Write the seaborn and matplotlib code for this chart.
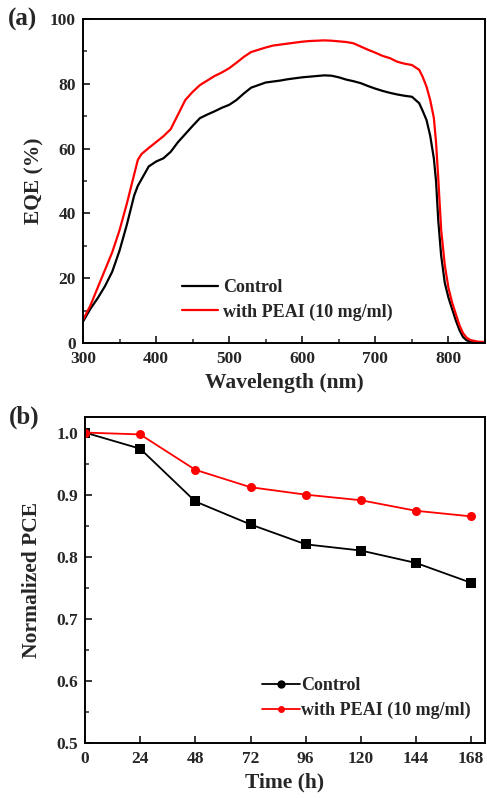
import numpy as np
import pandas as pd
import matplotlib
matplotlib.use("Agg")
import matplotlib.pyplot as plt
from matplotlib.ticker import MultipleLocator, FormatStrFormatter
import seaborn as sns

# (a) External quantum efficiency spectra
wavelength = [300, 310, 320, 330, 340, 350, 360, 370, 375, 380, 390, 400, 410, 420, 430,
              440, 450, 460, 470, 480, 490, 500, 510, 520, 530, 540, 550, 560, 570,
              580, 590, 600, 610, 620, 630, 640, 650, 660, 670, 680, 690, 700, 710,
              720, 730, 740, 750, 760, 765, 770, 775, 780, 783, 786, 790, 795, 800,
              805, 810, 815, 820, 825, 830, 840, 850]
eqe_control = [6.6, 10.5, 13.8, 17.5, 22.0, 28.5, 36.5, 45.5, 48.5, 50.5, 54.5, 56.0, 57.0,
               59.0, 62.0, 64.5, 67.0, 69.4, 70.5, 71.5, 72.6, 73.5, 75.0, 77.0, 78.8,
               79.6, 80.4, 80.7, 81.0, 81.4, 81.7, 82.0, 82.2, 82.4, 82.6, 82.5, 82.0,
               81.3, 80.8, 80.2, 79.3, 78.5, 77.8, 77.2, 76.7, 76.3, 76.0, 74.0, 71.5,
               68.8, 64.0, 57.0, 50.0, 38.0, 27.0, 18.5, 14.0, 10.5, 7.0, 4.0, 1.8,
               0.8, 0.4, 0.2, 0.1]
eqe_peai = [7.1, 11.5, 17.0, 22.5, 28.0, 34.8, 43.0, 52.0, 56.5, 58.3, 60.2, 62.0, 63.8,
            66.0, 70.5, 75.0, 77.5, 79.6, 81.0, 82.4, 83.5, 84.8, 86.5, 88.3, 89.8,
            90.5, 91.2, 91.8, 92.1, 92.4, 92.7, 93.0, 93.2, 93.3, 93.4, 93.3, 93.1,
            92.9, 92.5, 91.5, 90.5, 89.6, 88.6, 87.9, 86.8, 86.2, 85.8, 84.3, 82.0,
            79.1, 75.0, 69.5, 62.0, 51.0, 35.0, 24.0, 17.0, 12.5, 9.0, 5.5, 3.0,
            1.6, 0.9, 0.4, 0.3]

# (b) Stability: normalized PCE over time
time_h = [0, 24, 48, 72, 96, 120, 144, 168]
pce_control = [1.000, 0.974, 0.889, 0.852, 0.820, 0.810, 0.790, 0.758]
pce_peai = [1.000, 0.997, 0.940, 0.912, 0.900, 0.891, 0.874, 0.865]

series_names = ["Control", "with PEAI (10 mg/ml)"]
series_colors = ["black", "#ff0000"]

sns.set_style("ticks")
plt.rcParams["font.family"] = ["Liberation Serif", "DejaVu Serif"]
plt.rcParams["font.weight"] = "bold"
plt.rcParams["axes.labelweight"] = "bold"
plt.rcParams["xtick.direction"] = "in"
plt.rcParams["ytick.direction"] = "in"

eqe_df = pd.DataFrame({
    "Wavelength": wavelength * 2,
    "EQE": eqe_control + eqe_peai,
    "Sample": [series_names[0]] * len(wavelength) + [series_names[1]] * len(wavelength),
})
pce_df = pd.DataFrame({
    "Time": time_h * 2,
    "PCE": pce_control + pce_peai,
    "Sample": [series_names[0]] * len(time_h) + [series_names[1]] * len(time_h),
})

fig = plt.figure(figsize=(4.87, 7.98), dpi=100)
ax1 = fig.add_axes([0.1704, 0.5702, 0.8255, 0.4060])
ax2 = fig.add_axes([0.1745, 0.0689, 0.8214, 0.4085])

palette = dict(zip(series_names, series_colors))
legend_font = {"size": 13, "weight": "bold"}

sns.lineplot(data=eqe_df, x="Wavelength", y="EQE", hue="Sample", palette=palette,
             hue_order=series_names, linewidth=1.6, ax=ax1, legend=False)
for name in series_names:
    ax1.plot([], [], color=palette[name], lw=1.6, label=name)

ax1.set_xlim(300, 850)
ax1.set_ylim(0, 100)
ax1.xaxis.set_major_locator(MultipleLocator(100))
ax1.xaxis.set_minor_locator(MultipleLocator(50))
ax1.yaxis.set_major_locator(MultipleLocator(20))
ax1.yaxis.set_minor_locator(MultipleLocator(10))
ax1.set_xlabel("Wavelength (nm)", fontsize=15.5, labelpad=4)
ax1.set_ylabel("EQE (%)", fontsize=15.5, labelpad=4)
ax1.legend(loc="lower left", bbox_to_anchor=(0.215, 0.03), frameon=False,
           prop=legend_font, handlelength=2.0, handletextpad=0.25,
           labelspacing=0.4, borderpad=0.2)
ax1.text(-0.188, 1.0, "(a)", transform=ax1.transAxes, fontsize=18,
         fontweight="bold", ha="left", va="center")

sns.lineplot(data=pce_df, x="Time", y="PCE", hue="Sample", palette=palette,
             hue_order=series_names, style="Sample", markers=["s", "o"],
             dashes=False, linewidth=1.3, markersize=6.5, markeredgewidth=0,
             ax=ax2, legend=False)
ax2.plot([], [], color="black", lw=1.3, marker="o", ms=6, mec="none",
         label=series_names[0])
ax2.plot([], [], color="#ff0000", lw=1.3, marker="o", ms=5, mec="none",
         label=series_names[1])

ax2.set_xlim(0, 174)
ax2.set_ylim(0.5, 1.025)
ax2.set_xticks(time_h)
ax2.yaxis.set_major_locator(MultipleLocator(0.1))
ax2.yaxis.set_minor_locator(MultipleLocator(0.05))
ax2.yaxis.set_major_formatter(FormatStrFormatter("%.1f"))
ax2.set_xlabel("Time (h)", fontsize=15.5, labelpad=4)
ax2.set_ylabel("Normalized PCE", fontsize=15.5, labelpad=10)
ax2.legend(loc="lower left", bbox_to_anchor=(0.41, 0.035), frameon=False,
           prop=legend_font, handlelength=2.1, handletextpad=0.1,
           labelspacing=0.4, borderpad=0.2)
ax2.text(-0.19, 1.0, "(b)", transform=ax2.transAxes, fontsize=18,
         fontweight="bold", ha="left", va="center")

for ax in (ax1, ax2):
    for side in ax.spines.values():
        side.set_linewidth(1.4)
        side.set_color("black")
    ax.tick_params(which="major", length=5, width=1.3, labelsize=12.5,
                   top=False, right=False)
    ax.tick_params(axis="x", which="major", pad=6)
    ax.tick_params(axis="y", which="major", pad=5)
    ax.tick_params(which="minor", length=3, width=1.1, top=False, right=False)
    for lab in ax.get_xticklabels() + ax.get_yticklabels():
        lab.set_fontweight("bold")

fig.savefig("out.png", dpi=100)
